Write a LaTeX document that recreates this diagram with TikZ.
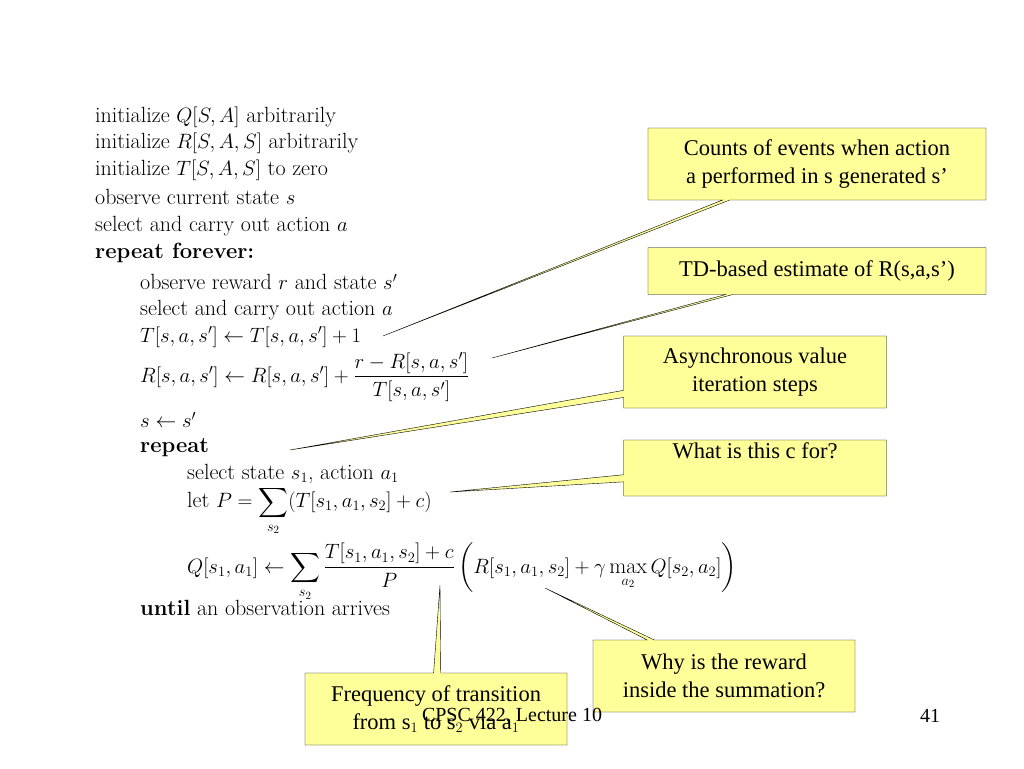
\documentclass[tikz,border=0pt]{standalone}
\usepackage{amsmath}
\usepackage{fontspec}
\newfontfamily\callfont{Liberation Serif}
\usetikzlibrary{shapes.callouts}
\definecolor{cyel}{HTML}{FFFF99}
\begin{document}
\begin{tikzpicture}[x=1pt,y=-1pt,
  alg/.style={anchor=west,inner sep=0pt,font=\fontsize{22}{24}\selectfont},
  call/.style={rectangle callout,draw=black,fill=cyel,font=\callfont\fontsize{22.5}{28}\selectfont,align=center,inner sep=0pt},
  foot/.style={font=\callfont\fontsize{20}{22}\selectfont}]
\useasboundingbox (0,0) rectangle (1024,768);
\node[alg] (l1) at (95,117) {initialize $Q[S,A]$ arbitrarily};
\node[alg] (l2) at (95,143) {initialize $R[S,A,S]$ arbitrarily};
\node[alg] (l3) at (95,170) {initialize $T[S,A,S]$ to zero};
\node[alg] (l4) at (95,197) {observe current state $s$};
\node[alg] (l5) at (95,226) {select and carry out action $a$};
\node[alg] (l6) at (95,253) {\textbf{repeat forever:}};
\node[alg] (l7) at (140,282) {observe reward $r$ and state $s'$};
\node[alg] (l8) at (140,310) {select and carry out action $a$};
\node[alg] (l9) at (140,337) {$T[s,a,s']\leftarrow T[s,a,s']+1$};
\node[alg] (l10) at (140,377) {$R[s,a,s']\leftarrow R[s,a,s']+\dfrac{r-R[s,a,s']}{T[s,a,s']}$};
\node[alg] (l11) at (140,420) {$s\leftarrow s'$};
\node[alg] (l12) at (140,448) {\textbf{repeat}};
\node[alg] (l13) at (187,474) {select state $s_1$, action $a_1$};
\node[alg] (l14) at (187,511) {let $P=\displaystyle\sum_{s_2}(T[s_1,a_1,s_2]+c)$};
\node[alg] (l15) at (187,572) {$Q[s_1,a_1]\leftarrow\displaystyle\sum_{s_2}\frac{T[s_1,a_1,s_2]+c}{P}\left(R[s_1,a_1,s_2]+\gamma\max_{a_2}Q[s_2,a_2]\right)$};
\node[alg] (l16) at (140,608) {\textbf{until} an observation arrives};
\coordinate (p1) at (383,336);
\coordinate (p2) at (492,358);
\coordinate (p3) at (290,450);
\coordinate (p4) at (450,492);
\coordinate (p5) at (545,588);
\coordinate (p6) at (440,585);
\node[call,minimum width=338,minimum height=72,callout absolute pointer=(p1)] (c1) at (817,164) {Counts of events when action\\a performed in s generated s’};
\node[call,minimum width=338,minimum height=47,callout absolute pointer=(p2)] (c2) at (817,271) {TD-based estimate of R(s,a,s’)};
\node[call,minimum width=263,minimum height=72,callout absolute pointer=(p3)] (c3) at (755,372) {Asynchronous value\\iteration steps};
\node[call,minimum width=263,minimum height=56,callout absolute pointer=(p4)] (c4) at (755,468) {What is this c for?\\[6pt]};
\node[call,minimum width=262,minimum height=72,callout absolute pointer=(p5)] (c5) at (724,676) {Why is the reward\\inside the summation?};
\node[call,minimum width=262,minimum height=72,callout absolute pointer=(p6)] (c6) at (436,709) {Frequency of transition\\from s$_1$ to s$_2$ via a$_1$};
\node[foot] (f1) at (512,716) {CPSC 422, Lecture 10};
\node[foot] (f2) at (930,716) {41};
\end{tikzpicture}
\end{document}
